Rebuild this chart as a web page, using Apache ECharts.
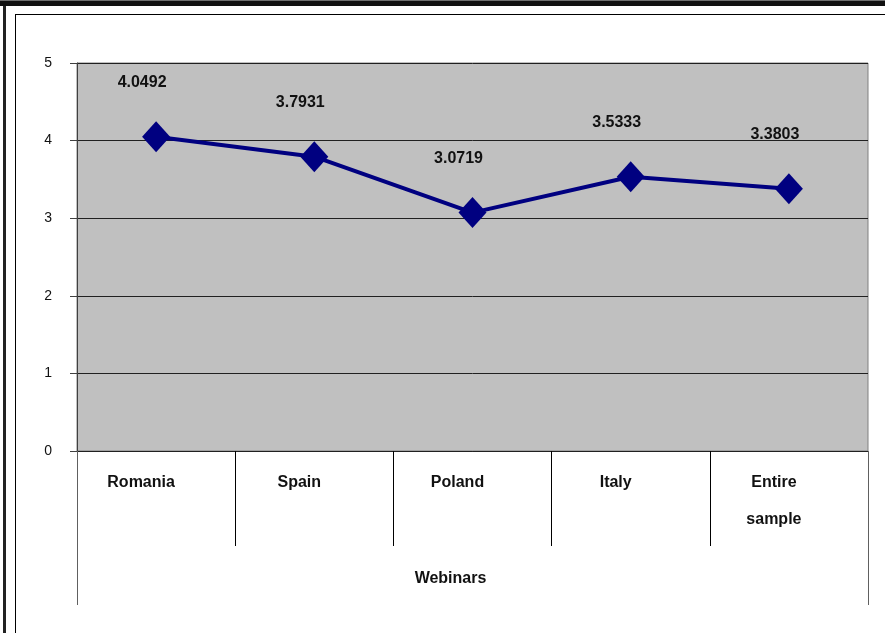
<!DOCTYPE html>
<html>
<head>
<meta charset="utf-8">
<script src="https://cdn.jsdelivr.net/npm/echarts@6/dist/echarts.min.js"></script>
<style>
html,body{margin:0;padding:0;background:#fff;}
#c{width:885px;height:633px;}
</style>
</head>
<body>
<div id="c"></div>
<script>
const categories = ['Romania', 'Spain', 'Poland', 'Italy', 'Entire\nsample'];
const values = [4.0492, 3.7931, 3.0719, 3.5333, 3.3803];
const groupLabel = ['Webinars'];
const yTicks = { min: 0, max: 5, interval: 1 };

const FONT = '"Liberation Sans", Arial, sans-serif';
const chart = echarts.init(document.getElementById('c'), null, { renderer: 'canvas' });

chart.setOption({
  backgroundColor: '#ffffff',
  animation: false,
  textStyle: { fontFamily: FONT },
  graphic: [
    { type: 'rect', shape: { x: 0, y: 0, width: 885, height: 2 }, style: { fill: '#707070' }, silent: true },
    { type: 'rect', shape: { x: 0, y: 1, width: 885, height: 5 }, style: { fill: '#111111' }, silent: true },
    { type: 'rect', shape: { x: 3, y: 6, width: 3, height: 627 }, style: { fill: '#222222' }, silent: true },
    { type: 'rect', shape: { x: 15, y: 14, width: 1, height: 619 }, style: { fill: '#000000' }, silent: true },
    { type: 'rect', shape: { x: 15, y: 14, width: 870, height: 1 }, style: { fill: '#000000' }, silent: true }
  ],
  grid: {
    left: 77, top: 63, right: 17, bottom: 182,
    show: true, backgroundColor: '#c0c0c0', borderColor: '#808080', borderWidth: 1
  },
  xAxis: [
    {
      type: 'category',
      data: categories,
      position: 'bottom',
      boundaryGap: true,
      axisLine: { show: true, lineStyle: { color: '#202020', width: 1 } },
      axisTick: { show: true, length: 95, alignWithLabel: false, lineStyle: { color: '#000000', width: 1 } },
      axisLabel: {
        margin: 13, fontFamily: FONT, fontSize: 16, fontWeight: 'bold', color: '#111111',
        lineHeight: 37, padding: [0, 30, 0, 0], interval: 0
      },
      splitLine: { show: false }
    },
    {
      type: 'category',
      data: groupLabel,
      position: 'bottom',
      boundaryGap: true,
      axisLine: { show: false },
      axisTick: { show: true, length: 154, lineStyle: { color: '#606060', width: 1 } },
      axisLabel: {
        margin: 120, fontFamily: FONT, fontSize: 16, fontWeight: 'bold', color: '#111111',
        padding: [0, 44, 0, 0]
      },
      splitLine: { show: false }
    }
  ],
  yAxis: {
    type: 'value',
    min: yTicks.min, max: yTicks.max, interval: yTicks.interval,
    axisLine: { show: true, lineStyle: { color: '#404040', width: 1 } },
    axisTick: { show: true, length: 7, lineStyle: { color: '#404040' } },
    axisLabel: { margin: 25, fontFamily: FONT, fontSize: 14, color: '#111111' },
    splitLine: { show: true, lineStyle: { color: '#202020', width: 1 } }
  },
  series: [{
    type: 'line',
    xAxisIndex: 0,
    data: values,
    symbol: 'diamond',
    symbolSize: [28, 31],
    lineStyle: { color: '#000080', width: 4 },
    itemStyle: { color: '#000080' },
    label: {
      show: true, position: 'top', distance: 31, offset: [-14, 0],
      fontFamily: FONT, fontSize: 16, fontWeight: 'bold', color: '#111111',
      formatter: p => p.value.toFixed(4)
    }
  }]
});
</script>
</body>
</html>
